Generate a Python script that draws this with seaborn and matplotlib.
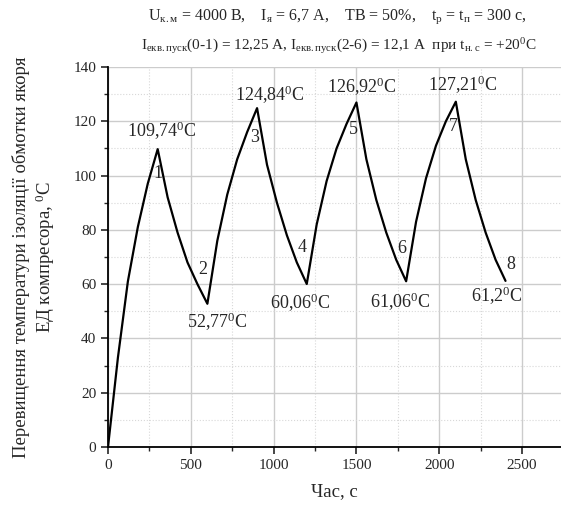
import numpy as np
import pandas as pd
import seaborn as sns
import matplotlib.pyplot as plt
from matplotlib.ticker import MultipleLocator

# heating / cooling curve (time, s -> temperature rise, C)
time_s = [0, 60, 120, 180, 240, 300,
          360, 420, 480, 540, 600,
          660, 720, 780, 840, 900,
          960, 1020, 1080, 1140, 1200,
          1260, 1320, 1380, 1440, 1500,
          1560, 1620, 1680, 1740, 1800,
          1860, 1920, 1980, 2040, 2100,
          2160, 2220, 2280, 2340, 2400]
temp_c = [0, 33, 61, 81, 97, 109.74,
          92, 79, 68, 60, 52.77,
          76, 93, 106, 116, 124.84,
          104, 90, 78, 68, 60.06,
          82, 98, 110, 119, 126.92,
          106, 91, 79, 69, 61.06,
          83, 99, 111, 120, 127.21,
          106, 91, 79, 69, 61.2]

# marked points
pt_num = ["1", "2", "3", "4", "5", "6", "7", "8"]
pt_t = [300, 600, 900, 1200, 1500, 1800, 2100, 2400]
pt_val = [109.74, 52.77, 124.84, 60.06, 126.92, 61.06, 127.21, 61.2]
pt_text = ["109,74", "52,77", "124,84", "60,06", "126,92", "61,06", "127,21", "61,2"]

# label offsets in pixels (value label, number label)
val_off = [(4, 18), (10, -18), (13, 13), (-7, -19), (5, 16), (-6, -21), (7, 17), (-9, -15)]
num_off = [(0, -24), (-5, 34), (-2, -29), (-5, 36), (-3, -27), (-4, 33), (-3, -25), (5, 16)]

df = pd.DataFrame({"t": time_s, "T": temp_c})

sns.set_style("white")
plt.rcParams["font.family"] = ["Liberation Serif", "DejaVu Serif"]
plt.rcParams["mathtext.fontset"] = "custom"
plt.rcParams["mathtext.rm"] = "Liberation Serif"
plt.rcParams["mathtext.it"] = "Liberation Serif"

fig = plt.figure(figsize=(5.61, 5.07), dpi=100)
ax = fig.add_axes([108 / 561, 60 / 507, 1 - 108 / 561, 380 / 507])

sns.lineplot(data=df, x="t", y="T", ax=ax, color="black", linewidth=1.6)

for i in range(len(pt_t)):
    ax.annotate(pt_text[i] + r"$^0$C", (pt_t[i], pt_val[i]), xytext=val_off[i],
                textcoords="offset pixels", ha="center", va="center", fontsize=13)
    ax.annotate(pt_num[i], (pt_t[i], pt_val[i]), xytext=num_off[i],
                textcoords="offset pixels", ha="center", va="center", fontsize=13)

ax.set_xlim(0, 2735)
ax.set_ylim(0, 140)
ax.xaxis.set_major_locator(MultipleLocator(500))
ax.xaxis.set_minor_locator(MultipleLocator(250))
ax.yaxis.set_major_locator(MultipleLocator(20))
ax.yaxis.set_minor_locator(MultipleLocator(10))
ax.grid(which="major", color="#cccccc", linewidth=1)
ax.grid(which="minor", color="#d8d8d8", linewidth=0.8, linestyle=":")
ax.set_axisbelow(True)
for s in ["top", "right"]:
    ax.spines[s].set_visible(False)
for s in ["left", "bottom"]:
    ax.spines[s].set_color("black")
    ax.spines[s].set_linewidth(1.3)
ax.tick_params(which="major", direction="out", length=5, width=1.2, labelsize=11, left=True, bottom=True)
ax.tick_params(which="minor", direction="out", length=3, width=1, left=True, bottom=True)

ax.set_xlabel("Час, с", fontsize=13.5, labelpad=8)
ax.set_ylabel("Перевищення температури ізоляції обмотки якоря\nЕД компресора, $^0$С",
              fontsize=13.5, labelpad=12)

plt.rcParams["mathtext.default"] = "regular"
fig.text(0.602, 0.968,
         r"U$_{\mathregular{к.м}}$ = 4000 В,    I$_{\mathregular{я}}$ = 6,7 А,    ТВ = 50%,    "
         r"t$_{\mathregular{р}}$ = t$_{\mathregular{п}}$ = 300 с,",
         ha="center", va="center", fontsize=11.5)
fig.text(0.603, 0.909,
         r"I$_{\mathregular{екв.пуск}}$(0-1) = 12,25 А, I$_{\mathregular{екв.пуск}}$(2-6) = 12,1 А  при "
         r"t$_{\mathregular{н.с}}$ = +20$^0$С",
         ha="center", va="center", fontsize=11)

fig.savefig("out.png", dpi=100)
